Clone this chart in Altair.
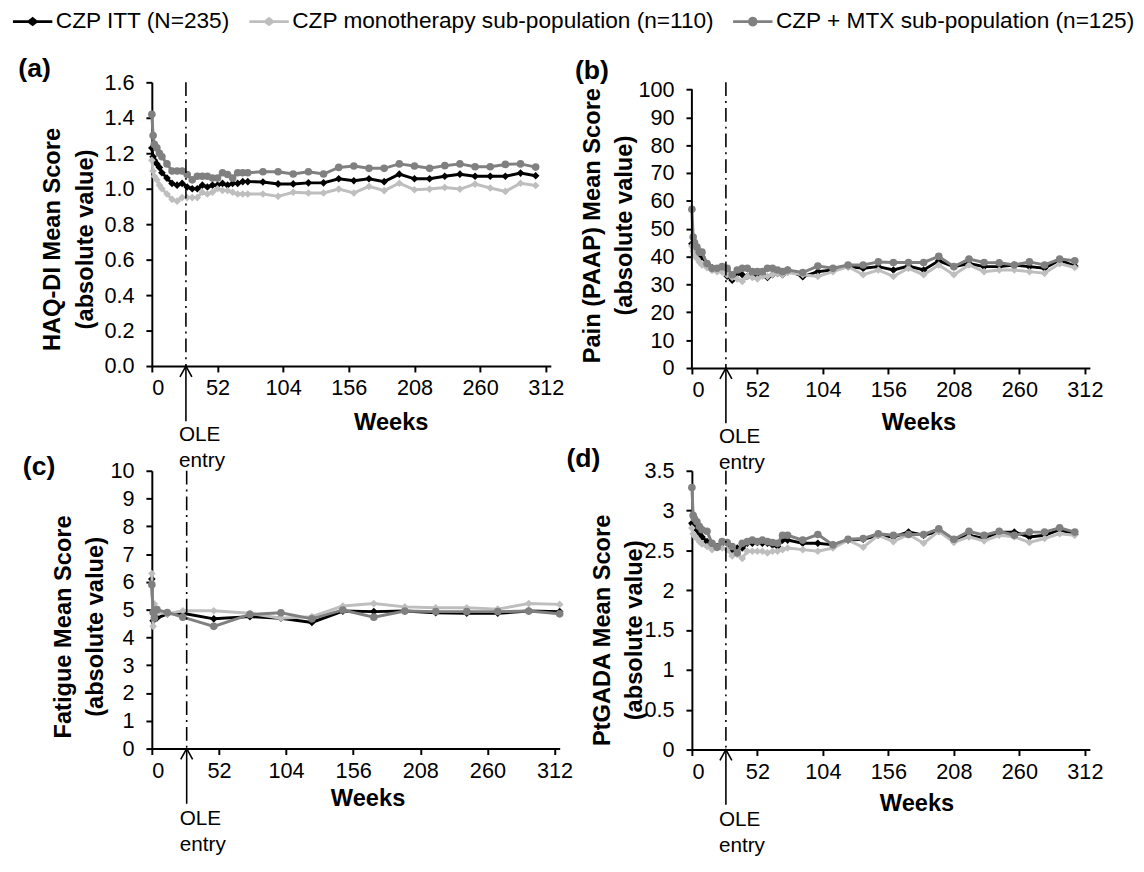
import altair as alt
import pandas as pd

FONT = "Liberation Sans"

SERIES = ["CZP ITT (N=235)", "CZP monotherapy sub-population (n=110)", "CZP + MTX sub-population (n=125)"]
COLORS = ["#000000", "#bebebe", "#808080"]
SHAPES = ["diamond", "diamond", "circle"]
SIZES = [60, 60, 60]

WEEKS = [0, 1, 2, 4, 6, 8, 12, 16, 20, 24, 28, 32, 36, 40, 44, 48, 52, 56, 60, 64, 68, 72, 76,
         88, 100, 112, 124, 136, 148, 160, 172, 184, 196, 208, 220, 232, 244, 256, 268, 280, 292, 304]
FAT_WEEKS = [0, 1, 2, 4, 12, 24, 48, 76, 100, 124, 148, 172, 196, 220, 244, 268, 292, 316]
X_TICKS = [0, 52, 104, 156, 208, 260, 312]
OLE_WEEK = [27]

HAQ_ITT = [1.23, 1.18, 1.16, 1.14, 1.12, 1.09, 1.06, 1.03, 1.02, 1.03, 1.01, 1.00, 1.00, 1.02, 1.01, 1.02,
           1.02, 1.03, 1.02, 1.03, 1.03, 1.04, 1.04,
           1.038, 1.027, 1.027, 1.033, 1.033, 1.056, 1.045, 1.056, 1.04, 1.082, 1.056, 1.056, 1.07, 1.082,
           1.07, 1.07, 1.07, 1.088, 1.073]
HAQ_MONO = [1.16, 1.10, 1.07, 1.05, 1.02, 1.00, 0.97, 0.94, 0.93, 0.95, 0.95, 0.95, 0.95, 0.98, 0.97, 0.98,
            1.00, 0.99, 0.99, 0.98, 0.97, 0.97, 0.97,
            0.97, 0.957, 0.98, 0.976, 0.976, 0.998, 0.976, 1.013, 0.989, 1.031, 0.994, 0.998, 1.007, 0.998,
            1.026, 1.004, 0.985, 1.031, 1.018]
HAQ_MTX = [1.42, 1.30, 1.25, 1.23, 1.20, 1.18, 1.14, 1.10, 1.10, 1.10, 1.08, 1.05, 1.07, 1.07, 1.07, 1.06,
           1.06, 1.09, 1.08, 1.06, 1.09, 1.09, 1.09,
           1.096, 1.096, 1.083, 1.096, 1.083, 1.12, 1.128, 1.115, 1.115, 1.14, 1.128, 1.115, 1.13, 1.14,
           1.124, 1.124, 1.137, 1.14, 1.122]

PAIN_ITT = [44.6, 43.5, 42.8, 41.6, 40.5, 39.9, 37.5, 36.0, 35.2, 35.5, 33.0, 31.5, 34.0, 33.5, 32.9, 33.0,
            32.5, 33.5, 32.5, 33.5, 34.0, 33.5, 35.2,
            32.8, 34.6, 35.2, 36.4, 35.8, 36.4, 35.2, 36.6, 35.2, 38.5, 36.4, 37.5, 36.4, 36.4, 37.0, 36.4,
            35.8, 38.8, 36.6]
PAIN_MONO = [43.8, 42.0, 40.5, 39.3, 38.0, 37.0, 36.0, 35.0, 34.6, 34.5, 33.5, 32.5, 32.0, 31.1, 32.9, 32.5,
             32.0, 33.0, 32.9, 33.5, 34.0, 33.5, 34.3,
             33.5, 32.9, 34.6, 36.4, 33.5, 35.2, 32.9, 35.8, 33.5, 37.0, 33.5, 37.0, 34.6, 35.2, 35.2, 34.6,
             34.0, 37.5, 36.1]
PAIN_MTX = [57.0, 47.0, 45.0, 43.4, 41.6, 41.6, 37.5, 35.8, 35.8, 36.4, 35.8, 33.5, 35.2, 35.8, 35.8, 34.6,
            34.6, 34.6, 35.8, 35.8, 35.2, 34.6, 35.2,
            34.3, 36.6, 35.8, 37.0, 37.0, 38.1, 37.9, 37.9, 37.9, 40.1, 36.4, 39.1, 37.9, 37.8, 37.0, 38.1,
            37.0, 39.1, 38.5]

FAT_ITT = [6.1, 4.6, 4.9, 4.7, 4.85, 4.87, 4.67, 4.75, 4.69, 4.54, 4.95, 4.93, 4.95, 4.89, 4.87, 4.87, 4.95, 4.93]
FAT_MONO = [6.3, 4.4, 5.2, 4.9, 4.85, 4.96, 4.96, 4.87, 4.69, 4.75, 5.13, 5.22, 5.10, 5.07, 5.07, 5.02, 5.22, 5.19]
FAT_MTX = [5.9, 4.9, 4.7, 5.0, 4.9, 4.73, 4.40, 4.83, 4.89, 4.67, 4.99, 4.73, 4.95, 4.93, 4.93, 4.93, 4.95, 4.85]

GADA_ITT = [2.84, 2.82, 2.79, 2.76, 2.72, 2.67, 2.61, 2.57, 2.55, 2.59, 2.59, 2.51, 2.53, 2.53, 2.59, 2.59,
            2.60, 2.59, 2.59, 2.57, 2.55, 2.63, 2.63,
            2.59, 2.59, 2.57, 2.63, 2.64, 2.69, 2.67, 2.73, 2.69, 2.74, 2.63, 2.69, 2.65, 2.73, 2.73, 2.67,
            2.69, 2.76, 2.70]
GADA_MONO = [2.78, 2.71, 2.68, 2.65, 2.61, 2.58, 2.55, 2.51, 2.53, 2.53, 2.51, 2.43, 2.45, 2.40, 2.49, 2.49,
             2.49, 2.49, 2.47, 2.49, 2.49, 2.51, 2.53,
             2.51, 2.49, 2.53, 2.63, 2.54, 2.69, 2.61, 2.70, 2.59, 2.74, 2.60, 2.67, 2.62, 2.69, 2.67, 2.60,
             2.65, 2.71, 2.69]
GADA_MTX = [3.29, 2.94, 2.90, 2.86, 2.80, 2.76, 2.74, 2.59, 2.54, 2.61, 2.60, 2.55, 2.47, 2.59, 2.61, 2.63,
            2.61, 2.63, 2.61, 2.60, 2.59, 2.69, 2.69,
            2.63, 2.70, 2.57, 2.64, 2.65, 2.71, 2.69, 2.70, 2.70, 2.77, 2.64, 2.74, 2.69, 2.74, 2.69, 2.73,
            2.73, 2.785, 2.73]

PANEL_LABELS = ["(a)", "(b)", "(c)", "(d)"]
Y_TITLES = [["HAQ-DI Mean Score", "(absolute value)"],
            ["Pain (PAAP) Mean Score", "(absolute value)"],
            ["Fatigue Mean Score", "(absolute value)"],
            ["PtGADA Mean Score", "(absolute value)"]]

SYM_LINE_DIAMOND = ("M-2.5,-0.18L-0.55,-0.18L0,-0.6L0.55,-0.18L2.5,-0.18L2.5,0.18L0.55,0.18"
                    "L0,0.6L-0.55,0.18L-2.5,0.18Z")
SYM_LINE_CIRCLE = ("M-2.5,-0.18L-0.58,-0.18A0.6,0.6 0 0,1 0.58,-0.18L2.5,-0.18L2.5,0.18L0.58,0.18"
                   "A0.6,0.6 0 0,1 -0.58,0.18L-2.5,0.18Z")

color_scale = alt.Scale(domain=SERIES, range=COLORS)
legend_shape_scale = alt.Scale(domain=SERIES, range=[SYM_LINE_DIAMOND, SYM_LINE_DIAMOND, SYM_LINE_CIRCLE])

legend = alt.Legend(title=None, orient="none", direction="horizontal", columns=3,
                    legendX=-132.5, legendY=-73.4,
                    symbolType=SYM_LINE_DIAMOND, symbolSize=256, symbolStrokeWidth=0,
                    labelFontSize=23, labelFont=FONT, labelColor="black", labelLimit=0,
                    labelOffset=12, columnPadding=18)


def long_df(weeks, lists):
    rows = []
    for s, vals in zip(SERIES, lists):
        for w, v in zip(weeks, vals):
            rows.append({"week": w, "value": v, "series": s})
    return pd.DataFrame(rows)


def panel(df, idx, w, h, ydom, yticks, yfmt, tx, ty, wx, wy, lab_x, lab_y, ole_dy, draw_yline=None,
          legend_layer=False):
    x = alt.X("week:Q", scale=alt.Scale(domain=[0, 316], nice=False, zero=False),
              axis=alt.Axis(values=X_TICKS, title="Weeks", titleX=wx, titleY=wy,
                            titleBaseline="alphabetic", titleAlign="center", grid=False))
    y_axis = alt.Axis(values=yticks, format=yfmt, title=Y_TITLES[idx], titleX=tx, titleY=h / 2 + ty,
                      titleBaseline="middle", titleAlign="center", titleAngle=270,
                      titleLineHeight=33, grid=False, domain=draw_yline is None)
    y_scale = alt.Scale(domain=ydom, nice=False, zero=False)
    y = alt.Y("value:Q", scale=y_scale, axis=y_axis)
    color = alt.Color("series:N", scale=color_scale, legend=legend)
    layers = []
    for i, s in enumerate(SERIES):
        base = alt.Chart(df).transform_filter(alt.datum.series == s)
        layers.append(base.mark_line(strokeWidth=3).encode(x=x, y=y, color=color))
        layers.append(base.mark_point(filled=True, opacity=1, size=SIZES[i], shape=SHAPES[i]).encode(
            x=x, y=y, color=color))
    if legend_layer:
        # carries the legend symbols only (line + marker per series); draws no data mark
        layers.append(alt.Chart(df).transform_filter("false").mark_point(filled=True, opacity=1).encode(
            x=x, y=y, color=color, shape=alt.Shape("series:N", scale=legend_shape_scale, legend=legend)))
    ole = alt.Chart(pd.DataFrame({"week": OLE_WEEK}))
    layers.append(ole.mark_rule(color="black", strokeWidth=1.6, strokeDash=[14, 5, 2, 5]).encode(x=x))
    layers.append(ole.mark_rule(color="black", strokeWidth=1.6).encode(
        x=x, y=alt.value(h), y2=alt.value(h + 56)))
    layers.append(ole.mark_point(shape="M-0.55,1L0,0L0.55,1", filled=False, size=484, strokeWidth=1.6,
                                 color="black", opacity=1).encode(x=x, y=alt.value(h)))
    layers.append(ole.mark_text(text="OLE", align="left", baseline="middle", dx=-7, fontSize=21,
                                font=FONT, color="black").encode(x=x, y=alt.value(h + ole_dy)))
    layers.append(ole.mark_text(text="entry", align="left", baseline="middle", dx=-7, fontSize=21,
                                font=FONT, color="black").encode(x=x, y=alt.value(h + ole_dy + 26)))
    layers.append(alt.Chart(pd.DataFrame({"label": [PANEL_LABELS[idx]]})).mark_text(
        align="left", baseline="alphabetic", fontSize=27, fontWeight="bold", font=FONT, color="black"
    ).encode(text="label:N", x=alt.value(lab_x), y=alt.value(lab_y)))
    if draw_yline is not None:
        layers.append(alt.Chart(pd.DataFrame({"value": [draw_yline[0]], "hi": [draw_yline[1]]}))
                      .mark_rule(color="black", strokeWidth=2)
                      .encode(x=alt.value(0), y=y, y2="hi:Q"))
    return alt.layer(*layers).properties(width=w, height=h)


df_a = long_df(WEEKS, [HAQ_ITT, HAQ_MONO, HAQ_MTX])
df_b = long_df(WEEKS, [PAIN_ITT, PAIN_MONO, PAIN_MTX])
df_c = long_df(FAT_WEEKS, [FAT_ITT, FAT_MONO, FAT_MTX])
df_d = long_df(WEEKS, [GADA_ITT, GADA_MONO, GADA_MTX])

pa = panel(df_a, 0, 405, 288, [0, 1.6], [0, 0.2, 0.4, 0.6, 0.8, 1.0, 1.2, 1.4, 1.6], ".1f",
           -100.5, 15, 242.5, 64, -135.5, -5, 70, legend_layer=True)
pb = panel(df_b, 1, 404, 290, [0, 102.58], [0, 10, 20, 30, 40, 50, 60, 70, 80, 90, 100], "d",
           -101, 0, 230, 62, -118.7, -3, 70, draw_yline=(0, 100))
pc = panel(df_c, 2, 414, 282, [0, 10], [0, 1, 2, 3, 4, 5, 6, 7, 8, 9, 10], "d",
           -90, 17, 219, 58, -131, 4, 72)
pd_ = panel(df_d, 3, 404, 283, [0, 3.5], [0, 0.5, 1, 1.5, 2, 2.5, 3, 3.5], "~g",
            -91, 20, 228, 62, -127.3, -4, 72)

chart = alt.concat(pa, pb, pc, pd_, columns=2, spacing={"row": 104.3, "column": 134.2},
                   bounds="flush").properties(
    padding={"left": 10, "top": -5, "right": 0, "bottom": 0}
).configure_view(stroke=None).configure_axis(
    labelFont=FONT, labelFontSize=22, labelColor="black", labelOverlap=False,
    titleFont=FONT, titleFontSize=24, titleFontWeight="bold", titleColor="black",
    domainColor="black", domainWidth=2, tickColor="black", tickWidth=2, tickSize=6,
).configure_axisX(labelPadding=6).configure_axisY(labelPadding=12)

chart.save("out.html", embed_options={"renderer": "svg", "actions": False})
